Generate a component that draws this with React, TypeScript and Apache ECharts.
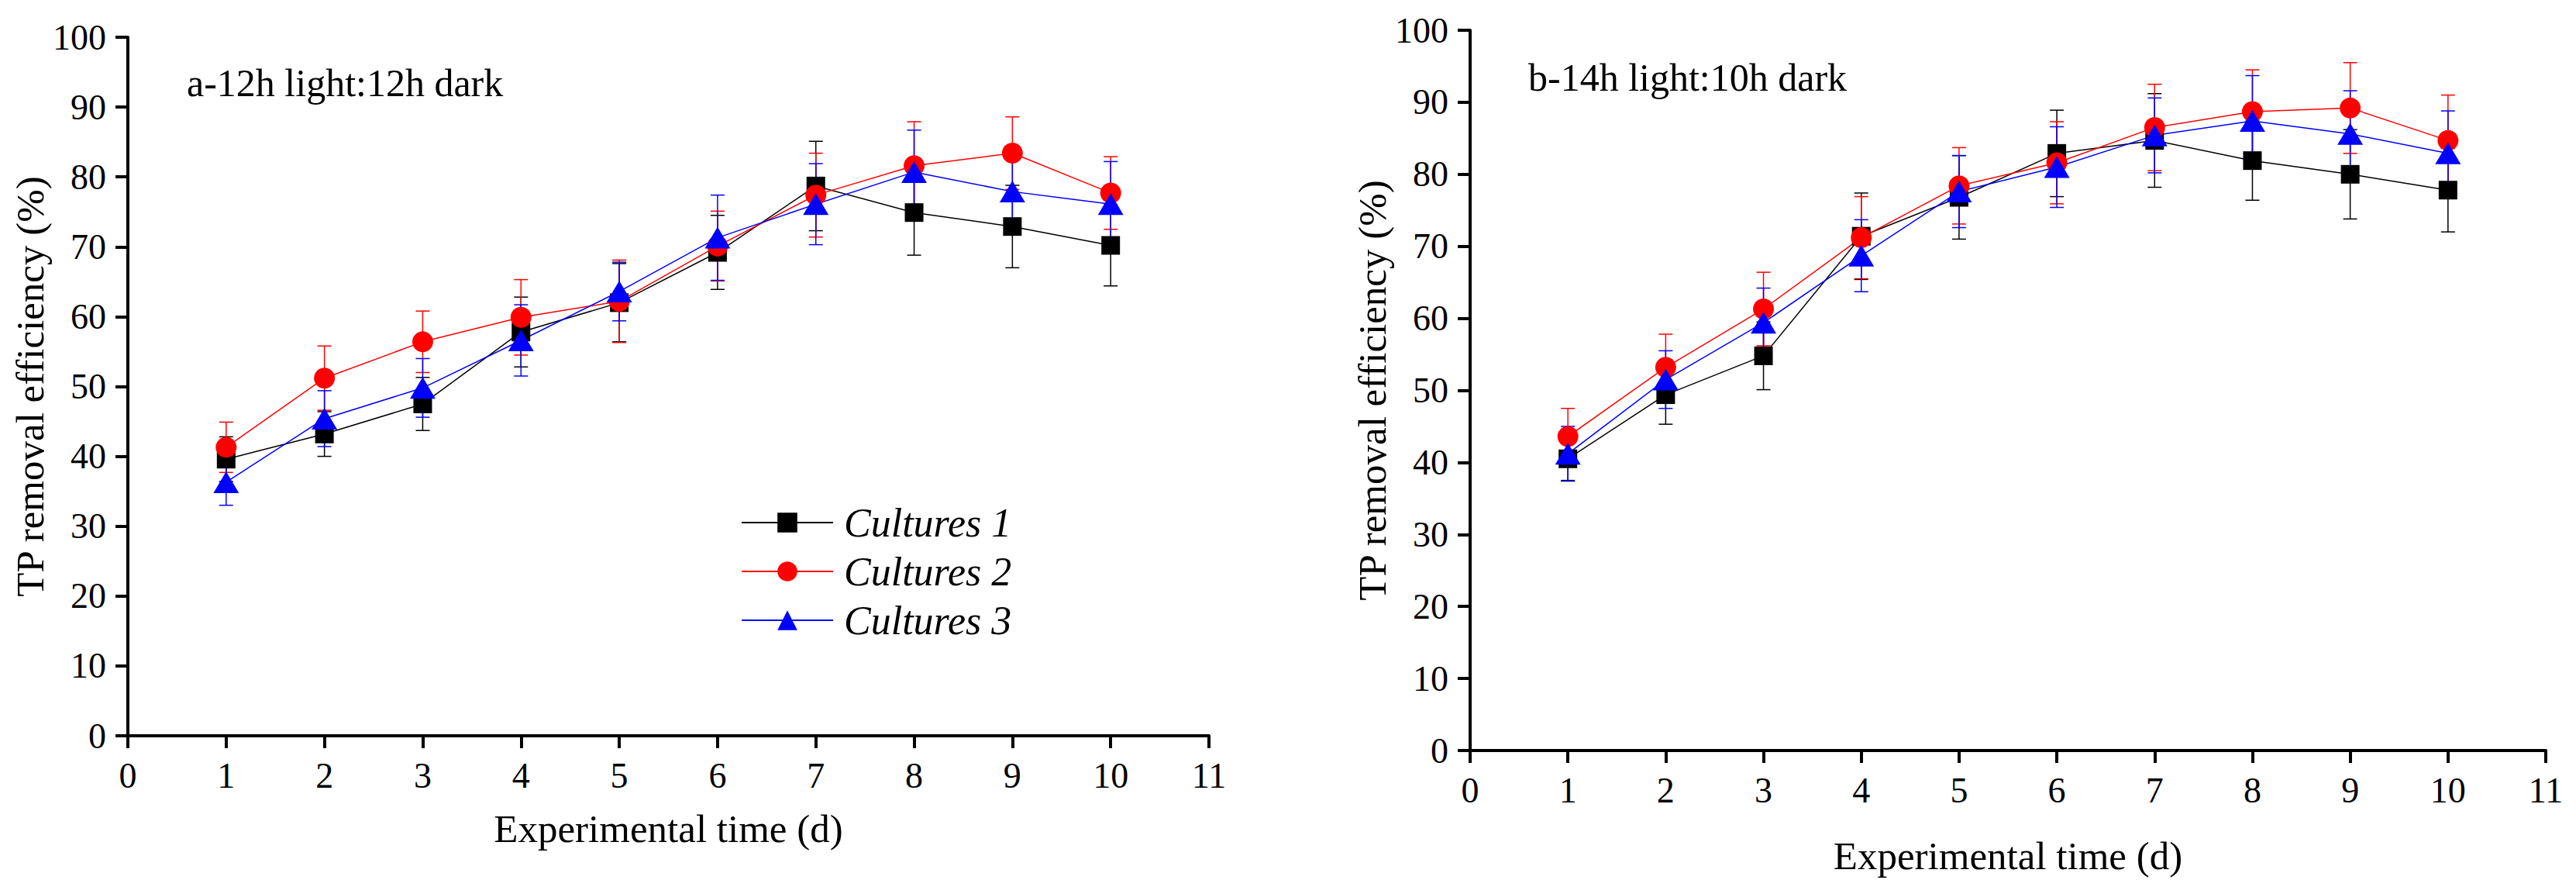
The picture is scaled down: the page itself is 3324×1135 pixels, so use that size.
import { useEffect, useRef } from 'react';
import * as echarts from 'echarts';

const FONT = 'Liberation Serif';

const days = [1, 2, 3, 4, 5, 6, 7, 8, 9, 10];
const seriesNames = ['Cultures 1', 'Cultures 2', 'Cultures 3'];
const colors = ['#000000', '#ff0000', '#0000ff'];
const panelTitles = ['a-12h light:12h dark', 'b-14h light:10h dark'];

// panel a: 12h light / 12h dark
const a1Mean = [39.6, 43.2, 47.5, 57.8, 62.0, 69.2, 78.7, 74.9, 72.9, 70.2];
const a1Sd = [3.2, 3.2, 3.8, 5.0, 5.6, 5.3, 6.4, 6.1, 5.9, 5.8];
const a2Mean = [41.3, 51.2, 56.4, 59.9, 62.2, 70.1, 77.4, 81.6, 83.4, 77.7];
const a2Sd = [3.6, 4.6, 4.4, 5.4, 5.9, 5.0, 6.0, 6.3, 5.2, 5.2];
const a3Mean = [36.3, 45.4, 49.8, 56.6, 63.6, 71.3, 76.1, 80.7, 77.9, 76.1];
const a3Sd = [3.3, 4.0, 4.2, 5.1, 4.2, 6.1, 5.8, 6.0, 4.8, 6.1];

// panel b: 14h light / 10h dark
const b1Mean = [40.5, 49.4, 54.8, 71.4, 76.8, 82.9, 84.7, 81.9, 80.0, 77.8];
const b1Sd = [3.0, 4.1, 4.7, 6.0, 5.8, 6.0, 6.5, 5.5, 6.2, 5.8];
const b2Mean = [43.6, 53.2, 61.3, 71.2, 78.4, 81.6, 86.5, 88.7, 89.2, 84.7];
const b2Sd = [3.9, 4.6, 5.1, 5.7, 5.3, 5.7, 6.0, 5.8, 6.3, 6.3];
const b3Mean = [41.2, 51.5, 59.4, 68.7, 77.6, 81.0, 85.4, 87.4, 85.6, 82.9];
const b3Sd = [3.8, 4.0, 4.8, 5.0, 5.0, 5.6, 5.2, 6.3, 6.0, 5.9];

const panelA = [
  { mean: a1Mean, sd: a1Sd },
  { mean: a2Mean, sd: a2Sd },
  { mean: a3Mean, sd: a3Sd },
];
const panelB = [
  { mean: b1Mean, sd: b1Sd },
  { mean: b2Mean, sd: b2Sd },
  { mean: b3Mean, sd: b3Sd },
];

const symbols = ['rect', 'circle', 'triangle'];
const symbolSizes: any[] = [24, 27, [33, 28]];

function makeAxes(gridIndex: number, nameGapX: number, nameGapY: number) {
  const axisLine = { lineStyle: { color: '#000', width: 4 } };
  const axisTick = { inside: false, length: 16, lineStyle: { color: '#000', width: 4 } };
  const label = { color: '#000', fontSize: 46, fontFamily: FONT, margin: 28 };
  const nameStyle = { color: '#000', fontSize: 51, fontFamily: FONT };
  return {
    x: {
      type: 'value',
      gridIndex,
      min: 0,
      max: 11,
      interval: 1,
      axisLine,
      axisTick,
      axisLabel: label,
      splitLine: { show: false },
      name: 'Experimental time (d)',
      nameLocation: 'middle',
      nameGap: nameGapX,
      nameTextStyle: nameStyle,
    },
    y: {
      type: 'value',
      gridIndex,
      min: 0,
      max: 100,
      interval: 10,
      axisLine: { show: true, ...axisLine },
      axisTick,
      axisLabel: label,
      splitLine: { show: false },
      name: 'TP removal efficiency (%)',
      nameLocation: 'middle',
      nameGap: nameGapY,
      nameTextStyle: nameStyle,
    },
  };
}

function buildSeries(panel: { mean: number[]; sd: number[] }[], axisIndex: number) {
  const out: any[] = [];
  panel.forEach((s, i) => {
    const color = colors[i];
    out.push({
      type: 'custom',
      name: `err-${axisIndex}-${i}`,
      xAxisIndex: axisIndex,
      yAxisIndex: axisIndex,
      z: 1,
      data: days.map((d, k) => [d, s.mean[k] - s.sd[k], s.mean[k] + s.sd[k]]),
      encode: { x: 0, y: [1, 2] },
      renderItem: (_p: any, api: any) => {
        const x = api.value(0);
        const top = api.coord([x, api.value(2)]);
        const bot = api.coord([x, api.value(1)]);
        const w = 9;
        const style = { stroke: color, lineWidth: 1.5 };
        return {
          type: 'group',
          children: [
            { type: 'line', shape: { x1: top[0], y1: top[1], x2: bot[0], y2: bot[1] }, style },
            { type: 'line', shape: { x1: top[0] - w, y1: top[1], x2: top[0] + w, y2: top[1] }, style },
            { type: 'line', shape: { x1: bot[0] - w, y1: bot[1], x2: bot[0] + w, y2: bot[1] }, style },
          ],
        };
      },
    });
  });
  panel.forEach((s, i) => {
    out.push({
      type: 'line',
      name: seriesNames[i],
      xAxisIndex: axisIndex,
      yAxisIndex: axisIndex,
      z: 3,
      data: days.map((d, k) => [d, s.mean[k]]),
      symbol: symbols[i],
      symbolSize: symbolSizes[i],
      itemStyle: { color: colors[i] },
      lineStyle: { color: colors[i], width: 1.5 },
    });
  });
  return out;
}

export default function App() {
  const chartRef = useRef<HTMLDivElement>(null);

  useEffect(() => {
    document.body.style.margin = '0';
    if (!chartRef.current) return;
    const chart = echarts.init(chartRef.current, null, { renderer: 'svg' });

    const axA = makeAxes(0, 94, 95);
    const axB = makeAxes(1, 110, 97);

    const option: any = {
      animation: false,
      backgroundColor: '#fff',
      textStyle: { fontFamily: FONT },
      grid: [
        { left: 165, top: 48, width: 1395, height: 901 },
        { left: 1897, top: 39, width: 1388, height: 929 },
      ],
      xAxis: [axA.x, axB.x],
      yAxis: [axA.y, axB.y],
      legend: {
        data: seriesNames,
        orient: 'vertical',
        left: 956,
        top: 648,
        padding: 0,
        itemWidth: 118,
        itemHeight: 32,
        itemGap: 11,
        textStyle: {
          color: '#000',
          fontSize: 52,
          fontStyle: 'italic',
          fontFamily: FONT,
          lineHeight: 52,
          padding: [0, 0, 0, 9],
        },
      },
      graphic: [
        {
          type: 'text',
          left: 241,
          top: 82,
          style: { text: panelTitles[0], fontSize: 50, fontFamily: FONT, fill: '#000' },
        },
        {
          type: 'text',
          left: 1972,
          top: 75,
          style: { text: panelTitles[1], fontSize: 50, fontFamily: FONT, fill: '#000' },
        },
      ],
      series: [...buildSeries(panelA, 0), ...buildSeries(panelB, 1)],
    };

    chart.setOption(option);
    return () => {
      chart.dispose();
    };
  }, []);

  return <div ref={chartRef} style={{ width: '3324px', height: '1135px' }} />;
}
